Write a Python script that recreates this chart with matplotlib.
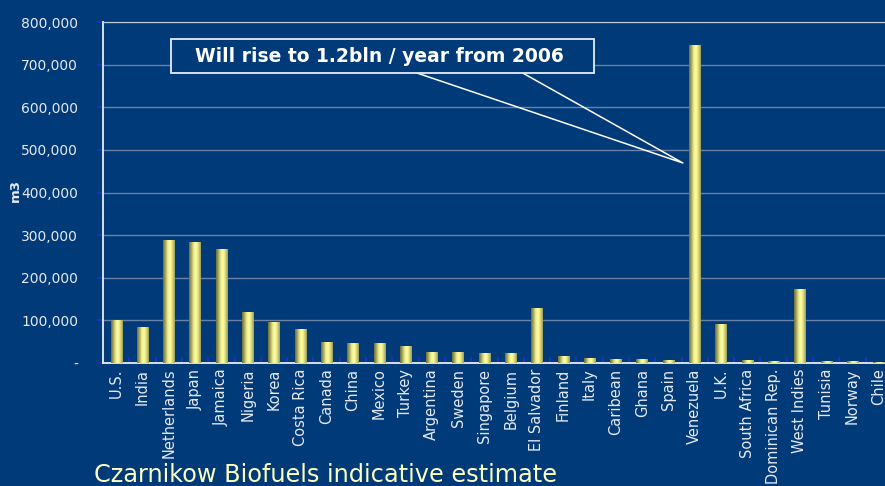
import numpy as np
import matplotlib.pyplot as plt
from matplotlib.colors import LinearSegmentedColormap

countries = ['U.S.', 'India', 'Netherlands', 'Japan', 'Jamaica', 'Nigeria', 'Korea',
             'Costa Rica', 'Canada', 'China', 'Mexico', 'Turkey', 'Argentina', 'Sweden',
             'Singapore', 'Belgium', 'El Salvador', 'Finland', 'Italy', 'Caribean', 'Ghana',
             'Spain', 'Venezuela', 'U.K.', 'South Africa', 'Dominican Rep.', 'West Indies',
             'Tunisia', 'Norway', 'Chile']
volume_m3 = [100000, 85000, 289000, 284000, 268000, 120000, 96000,
             80000, 49000, 47000, 47000, 40000, 26000, 26000,
             23500, 23500, 129000, 16000, 12000, 9000, 9000,
             7000, 747000, 91500, 7000, 4000, 174000,
             4000, 4000, 2000]
yticks = [0, 100000, 200000, 300000, 400000, 500000, 600000, 700000, 800000]
ytick_labels = ['-', '100,000', '200,000', '300,000', '400,000', '500,000',
                '600,000', '700,000', '800,000']

bg = '#003a78'
fig = plt.figure(figsize=(8.85, 4.86), dpi=100, facecolor=bg)
ax = fig.add_axes([0.1164, 0.2531, 0.8915, 0.7016])
ax.set_facecolor(bg)

x = np.arange(len(countries))
bars = ax.bar(x, volume_m3, width=0.43, color='none', edgecolor='none', zorder=3)

# cylinder-like shading for each bar
cyl = LinearSegmentedColormap.from_list('cyl', ['#6e6e3a', '#a8a862', '#eeee90', '#ffff9e', '#d8d880', '#9a9a58'])
grad = np.linspace(0, 1, 64).reshape(1, -1)
for b in bars:
    im = ax.imshow(grad, cmap=cyl, aspect='auto', zorder=3,
                   extent=[b.get_x(), b.get_x() + b.get_width(), 0, b.get_height()])
    im.set_clip_path(b)

ax.set_xlim(-0.5, len(countries) - 0.5)
ax.set_ylim(0, 800000)
ax.set_yticks(yticks)
ax.set_yticklabels(ytick_labels)
ax.set_xticks(x)
ax.set_xticklabels(countries, rotation=90, va='top', ha='center')
ax.set_xticks(np.arange(len(countries) + 1) - 0.5, minor=True)
ax.tick_params(axis='x', which='major', length=0, pad=4, labelsize=10.5, labelcolor='#e6e8f0')
ax.tick_params(axis='x', which='minor', length=4, width=1.2, color='#2030d0', direction='in')
ax.tick_params(axis='y', length=4, width=1.2, color='#2030d0', labelsize=10, labelcolor='#e6e8f0', pad=14)
for lbl in ax.get_yticklabels():
    lbl.set_horizontalalignment('right')

ax.grid(axis='y', color='#6a82a8', linewidth=1)
ax.set_axisbelow(True)
for s in ['left', 'bottom']:
    ax.spines[s].set_color('#e8ecf4')
    ax.spines[s].set_linewidth(1.3)
ax.spines['top'].set_color('#c8d0e0')
ax.spines['right'].set_visible(False)

fig.text(15 / 885, 1 - 190 / 486, 'm3', rotation=90, color='#e8ecf4', fontsize=9.5,
         fontweight='bold', ha='center', va='center')

# callout
ax.plot([0.398, 0.735, 0.532], [0.8504, 0.5865, 0.8504], transform=ax.transAxes,
        color='white', linewidth=1.1, zorder=5)
ax.text(0.350, 0.9002, 'Will rise to 1.2bln / year from 2006', transform=ax.transAxes,
        ha='center', va='center', color='white', fontsize=13.5, fontweight='bold', zorder=6)
ax.add_patch(plt.Rectangle((0.0862, 0.8504), 0.5361, 0.0996, transform=ax.transAxes,
                           facecolor=bg, edgecolor='#e8ecf4', linewidth=1.3, zorder=5))

fig.text(94 / 885, 1 - 463 / 486, 'Czarnikow Biofuels indicative estimate',
         color='#ffffc0', fontsize=17.3, ha='left', va='top')

fig.savefig('out.png', dpi=100, facecolor=bg)
